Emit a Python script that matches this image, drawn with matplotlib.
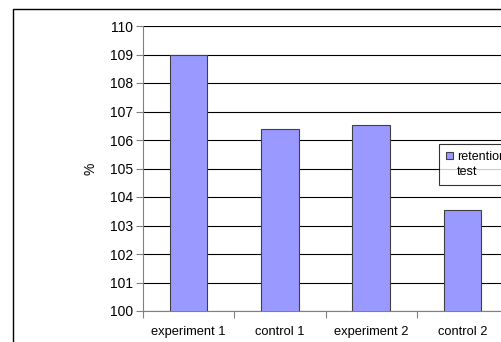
import numpy as np
import matplotlib.pyplot as plt
from matplotlib.patches import Rectangle

plt.rcParams['font.family'] = ['Liberation Sans', 'DejaVu Sans']

groups = ["experiment 1", "control 1", "experiment 2", "control 2"]
retention = [109.0, 106.37, 106.53, 103.55]
y_ticks = [100, 101, 102, 103, 104, 105, 106, 107, 108, 109, 110]

W, H = 501, 342
fig = plt.figure(figsize=(W / 100, H / 100), dpi=100)
fig.patch.set_facecolor("white")

# chart area border (runs off the right and bottom edge)
fig.patches.append(Rectangle((13 / W, -0.1), 1.2, 1 - 9 / H + 0.1,
                             transform=fig.transFigure, fill=False,
                             edgecolor="black", linewidth=1.0))

ax = fig.add_axes([143 / W, 1 - 311 / H, 365 / W, 285 / H])
x = np.arange(len(groups))
bars = ax.bar(x, retention, width=0.41, color="#9999FF", edgecolor="#404040",
              linewidth=0.8, zorder=3)

ax.set_ylim(100, 110)
ax.set_xlim(-0.5, len(groups) - 0.5)
ax.set_yticks(y_ticks)
ax.tick_params(axis="y", length=5, width=0.8, color="#808080", labelsize=10, pad=2)
ax.yaxis.grid(True, color="black", linewidth=0.8, zorder=0)
ax.set_axisbelow(True)

# category labels centered, ticks on the category boundaries
ax.set_xticks(x)
ax.set_xticklabels(groups, fontsize=9.3)
ax.tick_params(axis="x", length=0, pad=11)
ax.set_xticks(np.arange(len(groups) + 1) - 0.5, minor=True)
ax.tick_params(axis="x", which="minor", length=5, width=0.8, color="#808080")

for side in ["top", "right"]:
    ax.spines[side].set_visible(False)
for side in ["left", "bottom"]:
    ax.spines[side].set_color("#808080")
    ax.spines[side].set_linewidth(0.8)

ax.set_ylabel("%", fontsize=10, labelpad=9)

# series name wraps onto a second line; the swatch stays on the first
blank = Rectangle((0, 0), 1, 1, fill=False, edgecolor="none", visible=False)
leg = ax.legend([bars, blank], ["retention", "test"],
                loc="upper left", bbox_to_anchor=(439 / W, 1 - 144 / H),
                bbox_transform=fig.transFigure, borderaxespad=0,
                fancybox=False, frameon=True, fontsize=9,
                handlelength=0.55, handleheight=0.55, handletextpad=0.35,
                labelspacing=0.25, borderpad=0.55)
leg.get_frame().set_edgecolor("black")
leg.get_frame().set_linewidth(0.8)

fig.savefig("out.png", dpi=100)
